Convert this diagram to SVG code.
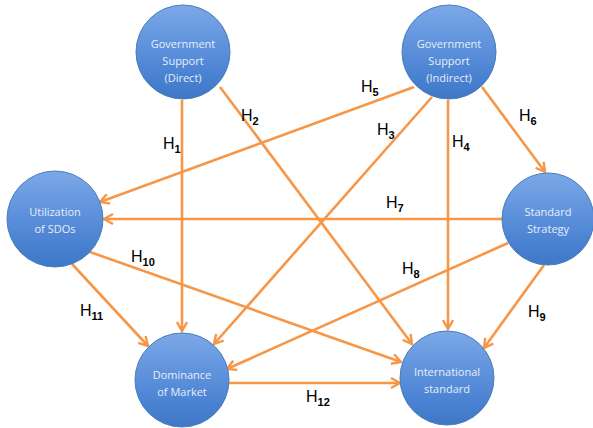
<svg xmlns="http://www.w3.org/2000/svg" width="593" height="428" viewBox="0 0 593 428">
<defs>
<linearGradient id="g" x1="0" y1="0" x2="0" y2="1">
<stop offset="0" stop-color="#7ba8e8"/>
<stop offset="0.75" stop-color="#4a82d2"/>
<stop offset="1" stop-color="#3f78c6"/>
</linearGradient>
<marker id="ah" viewBox="0 0 12 12" refX="10" refY="6" markerWidth="12" markerHeight="12" markerUnits="userSpaceOnUse" orient="auto">
<path d="M1,1 L10,6 L1,11" fill="none" stroke="#f79646" stroke-width="2.4" stroke-linejoin="miter"/>
</marker>
</defs>
<style>
.node{fill:url(#g);stroke:#4a7ebb;stroke-width:1}
.nt{font-family:"Open Sans","Liberation Sans",sans-serif;font-size:11px;fill:#e6eef9;text-anchor:middle}
.c{stroke:#f79646;stroke-width:2.6;fill:none;marker-end:url(#ah)}
.lb{font-family:"Liberation Sans",Arial,sans-serif;font-size:16px;fill:#000}
.sb{font-size:11px;font-weight:bold}
</style>
<g id="connectors">
<line class="c" x1="182" y1="100" x2="182" y2="331"/>
<line class="c" x1="220" y1="87" x2="412" y2="344"/>
<line class="c" x1="432" y1="97" x2="214" y2="344"/>
<line class="c" x1="448" y1="100" x2="448" y2="329"/>
<line class="c" x1="414" y1="87" x2="100" y2="202"/>
<line class="c" x1="482" y1="87" x2="545" y2="172"/>
<line class="c" x1="502" y1="219" x2="104" y2="219"/>
<line class="c" x1="508" y1="243" x2="227" y2="369"/>
<line class="c" x1="544" y1="265" x2="484" y2="348"/>
<line class="c" x1="90" y1="252" x2="401" y2="362"/>
<line class="c" x1="72" y1="264" x2="148" y2="346"/>
<line class="c" x1="229" y1="383" x2="400" y2="383"/>
</g>
<g id="labels">
<text class="lb" x="163" y="149">H<tspan class="sb" dy="4">1</tspan></text>
<text class="lb" x="241" y="121">H<tspan class="sb" dy="4">2</tspan></text>
<text class="lb" x="377" y="135">H<tspan class="sb" dy="4">3</tspan></text>
<text class="lb" x="452" y="147">H<tspan class="sb" dy="4">4</tspan></text>
<text class="lb" x="361" y="92">H<tspan class="sb" dy="4">5</tspan></text>
<text class="lb" x="519" y="121">H<tspan class="sb" dy="4">6</tspan></text>
<text class="lb" x="386" y="208">H<tspan class="sb" dy="4">7</tspan></text>
<text class="lb" x="402" y="274">H<tspan class="sb" dy="4">8</tspan></text>
<text class="lb" x="528" y="317">H<tspan class="sb" dy="4">9</tspan></text>
<text class="lb" x="131" y="262">H<tspan class="sb" dy="4">10</tspan></text>
<text class="lb" x="80" y="316">H<tspan class="sb" dy="4">11</tspan></text>
<text class="lb" x="306" y="402">H<tspan class="sb" dy="4">12</tspan></text>
</g>
<g id="gov-direct">
<circle class="node" cx="183" cy="52" r="47"/>
<text class="nt" x="183" y="48">Government</text>
<text class="nt" x="183" y="65">Support</text>
<text class="nt" x="183" y="82">(Direct)</text>
</g>
<g id="gov-indirect">
<circle class="node" cx="449" cy="52" r="47"/>
<text class="nt" x="449" y="48">Government</text>
<text class="nt" x="449" y="65">Support</text>
<text class="nt" x="449" y="82">(Indirect)</text>
</g>
<g id="utilization">
<circle class="node" cx="55" cy="219" r="48"/>
<text class="nt" x="55" y="216">Utilization</text>
<text class="nt" x="55" y="233">of SDOs</text>
</g>
<g id="strategy">
<circle class="node" cx="548" cy="219" r="46"/>
<text class="nt" x="548" y="216">Standard</text>
<text class="nt" x="548" y="233">Strategy</text>
</g>
<g id="dominance">
<circle class="node" cx="182" cy="380" r="47"/>
<text class="nt" x="182" y="379">Dominance</text>
<text class="nt" x="182" y="396">of Market</text>
</g>
<g id="international">
<circle class="node" cx="447" cy="378" r="47"/>
<text class="nt" x="447" y="376">International</text>
<text class="nt" x="447" y="393">standard</text>
</g>
</svg>
